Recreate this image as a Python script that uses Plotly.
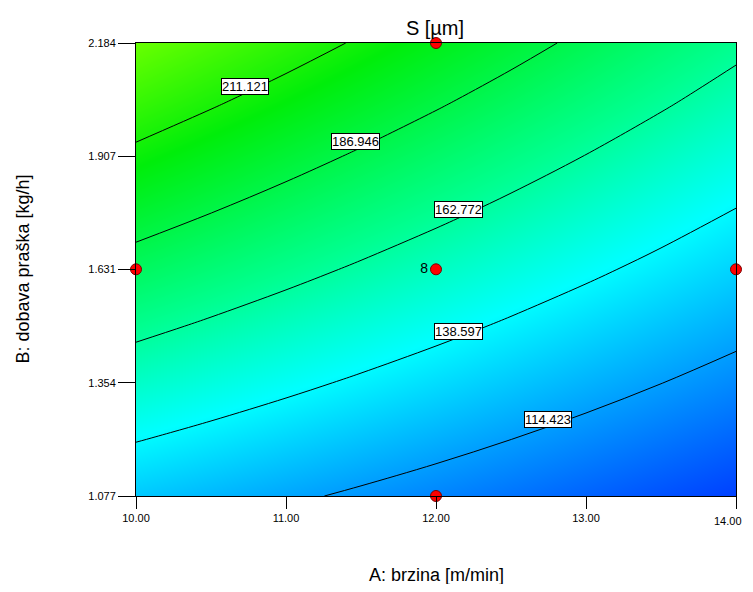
import plotly.graph_objects as go

# ---- data ----
A_vals = [10.0, 10.5, 11.0, 11.5, 12.0, 12.5, 13.0, 13.5, 14.0]          # A: brzina [m/min]
B_vals = [1.077, 1.2154, 1.3538, 1.4921, 1.6305, 1.7689, 1.9073, 2.0456, 2.184]  # B: dobava praška [kg/h]
# S [µm] response estimated on the grid (rows = B, columns = A)
S_grid = [
    [125.60, 121.15, 116.70, 112.25, 107.80, 103.35, 98.90, 94.45, 90.00],
    [139.29, 134.32, 129.36, 124.39, 119.43, 114.46, 109.49, 104.53, 99.56],
    [152.98, 147.49, 142.01, 136.53, 131.05, 125.57, 120.09, 114.61, 109.13],
    [166.66, 160.67, 154.67, 148.67, 142.68, 136.68, 130.68, 124.69, 118.69],
    [180.35, 173.84, 167.33, 160.81, 154.30, 147.79, 141.28, 134.76, 128.25],
    [194.04, 187.01, 179.98, 172.95, 165.93, 158.90, 151.87, 144.84, 137.81],
    [207.73, 200.18, 192.64, 185.09, 177.55, 170.01, 162.46, 154.92, 147.38],
    [221.41, 213.35, 205.29, 197.23, 189.18, 181.12, 173.06, 165.00, 156.94],
    [235.10, 226.53, 217.95, 209.38, 200.80, 192.23, 183.65, 175.08, 166.50],
]
contour_levels = [114.423, 138.597, 162.772, 186.946, 211.121]
label_A = [10.727, 11.46, 12.149, 12.147, 12.749]
label_B = [2.077, 1.943, 1.776, 1.478, 1.263]

design_A = [10.0, 12.0, 14.0, 12.0, 12.0]
design_B = [1.631, 1.631, 1.631, 1.077, 2.184]
design_text = ["", "8", "", "", ""]

x_ticks = [10, 11, 12, 13, 14]
x_ticktext = ["10.00", "11.00", "12.00", "13.00", "14.00"]
y_ticks = [1.077, 1.354, 1.631, 1.907, 2.184]
y_ticktext = ["1.077", "1.354", "1.631", "1.907", "2.184"]

zmin, zmax = 90.0, 235.1
def pos(z):
    return (z - zmin) / (zmax - zmin)

colorscale = [
    [0.0, "rgb(0,64,255)"],
    [pos(140), "rgb(0,255,255)"],
    [pos(166), "rgb(0,255,145)"],
    [pos(205), "rgb(0,238,10)"],
    [1.0, "rgb(104,255,0)"],
]

# page body has an 8 px margin; keep the figure inside the 753x592 window
W, H = 737, 576
ML, MR, MT, MB = 128, 9, 35, 88
PW, PH = W - ML - MR, H - MT - MB

fig = go.Figure()
fig.add_trace(go.Contour(
    x=A_vals, y=B_vals, z=S_grid,
    zmin=zmin, zmax=zmax, colorscale=colorscale, showscale=False,
    autocontour=False,
    contours=dict(start=contour_levels[0], end=contour_levels[-1],
                  size=(contour_levels[-1] - contour_levels[0]) / (len(contour_levels) - 1),
                  coloring="heatmap", showlabels=False),
    line=dict(color="black", width=1),
    hoverinfo="skip",
))
fig.add_trace(go.Scatter(
    x=design_A, y=design_B, mode="markers+text", text=design_text,
    textposition="middle left", textfont=dict(family="Arial", size=14, color="black"),
    marker=dict(color="red", size=11, line=dict(color="#7a0000", width=1)),
    cliponaxis=False, showlegend=False, hoverinfo="skip",
))

for a, b, lv in zip(label_A, label_B, contour_levels[::-1]):
    fig.add_annotation(x=a, y=b, text=f"{lv:.3f}", showarrow=False,
                       font=dict(family="Arial", size=13, color="black"),
                       bgcolor="white", bordercolor="black", borderwidth=1, borderpad=0)

# last x tick label would overflow the page edge: draw it right-aligned inside the figure
shown_ticktext = x_ticktext[:-1] + [""]
fig.add_annotation(xref="paper", yref="paper", x=(W - 1 - ML) / PW, xanchor="right",
                   y=-(513 - (H - MB)) / PH, yanchor="middle",
                   text=x_ticktext[-1], showarrow=False,
                   font=dict(family="Arial", size=11, color="black"))

fig.add_annotation(xref="paper", yref="paper", x=0.5,
                   y=-(567 - (H - MB)) / PH, yanchor="middle",
                   text="A: brzina [m/min]", showarrow=False,
                   font=dict(family="Arial", size=18, color="black"))
fig.add_annotation(xref="paper", yref="paper", x=(14 - ML) / PW, y=0.5, xanchor="center",
                   text="B: dobava praška [kg/h]", showarrow=False, textangle=-90,
                   font=dict(family="Arial", size=18, color="black"))

fig.update_layout(
    width=W, height=H,
    margin=dict(l=ML, r=MR, t=MT, b=MB),
    paper_bgcolor="white", plot_bgcolor="white",
    title=dict(text="S [µm]", x=427 / W, xanchor="center", y=1 - 20 / H, yanchor="middle",
               yref="container", font=dict(family="Arial", size=20, color="black")),
    xaxis=dict(range=[10, 14], tickvals=x_ticks, ticktext=shown_ticktext, ticks="outside",
               ticklen=12, tickcolor="black", showgrid=False, zeroline=False,
               showline=True, linecolor="black", linewidth=1, mirror=True,
               tickfont=dict(family="Arial", size=11, color="black")),
    yaxis=dict(range=[1.077, 2.184], tickvals=y_ticks, ticktext=y_ticktext, ticks="outside",
               ticklen=17, tickcolor="black", showgrid=False, zeroline=False,
               showline=True, linecolor="black", linewidth=1, mirror=True,
               tickfont=dict(family="Arial", size=11, color="black")),
)

fig.write_html("out.html")
